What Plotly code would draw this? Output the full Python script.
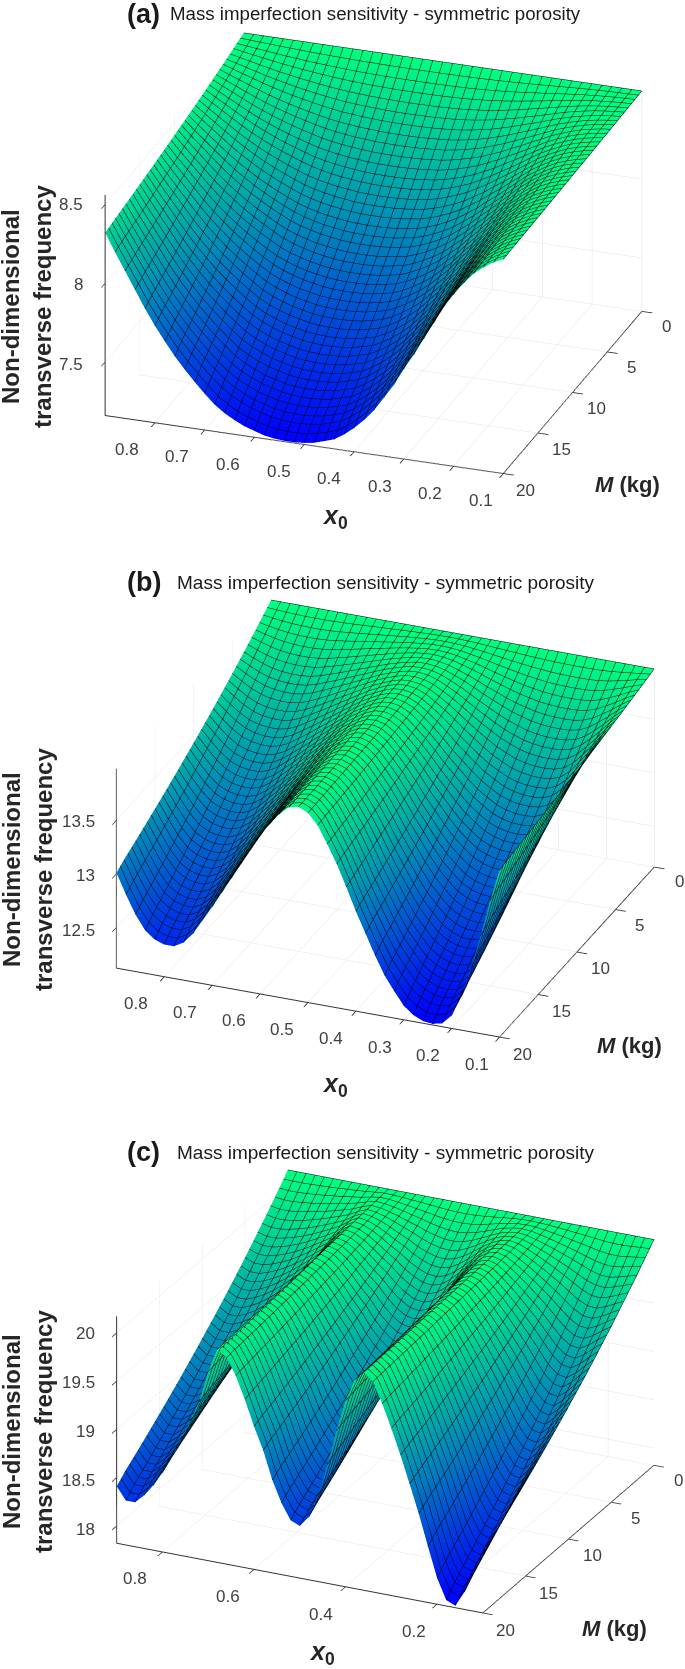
import math
import plotly.graph_objects as go

X0 = [round(0.10 + 0.02 * i, 2) for i in range(41)]
MASS = [0.5 * i for i in range(41)]
MASS_SHAPE = [0, .0319, .0637, .0947, .1255, .1556, .1854, .2147, .2436, .2722, .3003,
              .3280, .3554, .3824, .4091, .4354, .4615, .4864, .5109, .5356, .5601,
              .5842, .6081, .6316, .6548, .6778, .7006, .7229, .7449, .7666, .7881,
              .8095, .8306, .8516, .8725, .8926, .9125, .9323, .9519, .9760, 1.0]

Z0_A = 8.56
EDGE_A = [8.52, 8.49, 8.45, 8.40, 8.33, 8.25, 8.16, 8.05, 7.94, 7.83, 7.73, 7.62, 7.53, 7.44,
          7.37, 7.31, 7.26, 7.22, 7.20, 7.18, 7.17, 7.165, 7.165, 7.17, 7.18, 7.20, 7.22, 7.25,
          7.285, 7.33, 7.39, 7.455, 7.525, 7.60, 7.685, 7.775, 7.875, 7.985, 8.095, 8.205, 8.32]
Z0_B = 13.97
EDGE_B = [13.68, 13.38, 13.03, 12.72, 12.43, 12.24, 12.15, 12.13, 12.14, 12.18, 12.25, 12.37, 12.50,
          12.67, 12.86, 13.05, 13.26, 13.46, 13.63, 13.79, 13.89, 13.93, 13.91, 13.83, 13.72, 13.60,
          13.45, 13.30, 13.15, 13.00, 12.85, 12.71, 12.57, 12.47, 12.42, 12.42, 12.45, 12.52, 12.65,
          12.82, 13.01]
Z0_C = 20.16
EDGE_C = [18.43, 18.22, 18.00, 17.84, 17.88, 18.09, 18.40, 18.72, 19.01, 19.29, 19.55, 19.79, 20.00,
          20.08, 19.98, 19.75, 19.42, 19.05, 18.72, 18.47, 18.36, 18.40, 18.56, 18.78, 19.07, 19.30,
          19.56, 19.79, 19.96, 20.03, 19.78, 19.45, 19.23, 19.02, 18.82, 18.64, 18.49, 18.37, 18.28,
          18.28, 18.41]

TITLE = "Mass imperfection sensitivity - symmetric porosity"
TICKS_M = [0, 5, 10, 15, 20]
TICKS_X_AB = [0.1, 0.2, 0.3, 0.4, 0.5, 0.6, 0.7, 0.8]
TICKS_X_C = [0.2, 0.4, 0.6, 0.8]
TICKS_Z_A = [7.5, 8, 8.5]
TICKS_Z_B = [12.5, 13, 13.5]
TICKS_Z_C = [18, 18.5, 19, 19.5, 20]

W, H = 685, 1669
FONT = "Liberation Sans"
PX_PER_UNIT = 0.508  # screen px per aspect unit, as a fraction of the scene height
X_RANGE = [0.1, 0.9]
M_RANGE = [0, 20]


def surface_z(z0, edge):
    return [[z0 + (e - z0) * s for e in edge] for s in MASS_SHAPE]


def basis(el_deg, hx, hy):
    e = math.radians(el_deg)
    n = math.hypot(hx, hy)
    hx, hy = hx / n, hy / n
    r = (-hy, hx, 0.0)
    u = (-hx * math.sin(e), -hy * math.sin(e), math.cos(e))
    d = (hx * math.cos(e), hy * math.cos(e), math.sin(e))
    return r, u, d


def camera(el_deg, hx, hy, ppu, top, bottom, cx, cy):
    r, u, d = basis(el_deg, hx, hy)
    dx = cx - W / 2.0
    dy = cy - (top + bottom) / 2.0
    c = [-(dx / ppu) * r[i] + (dy / ppu) * u[i] for i in range(3)]
    eye = [c[i] + 4.0 * d[i] for i in range(3)]
    return dict(
        projection=dict(type="orthographic"),
        up=dict(x=0, y=0, z=1),
        center=dict(x=c[0], y=c[1], z=c[2]),
        eye=dict(x=eye[0], y=eye[1], z=eye[2]),
    )


def axis(ticks, rng):
    return dict(
        range=rng, tickvals=ticks, ticktext=[f"{t:g}" for t in ticks],
        title=dict(text=""), showbackground=False, showspikes=False, showticklabels=False,
        gridcolor="#e3e3e3", gridwidth=1, zeroline=False,
        showline=True, linecolor="#333333", linewidth=2,
        ticks="outside", ticklen=11, tickcolor="#333333", tickwidth=2,
    )


COLORS = [[0, "rgb(0,0,255)"], [1, "rgb(0,255,128)"]]
PANELS = [
    dict(z0=Z0_A, edge=EDGE_A, xt=TICKS_X_AB, zt=TICKS_Z_A, zr=[7.16, 8.56], top=0, bottom=530,
         el=24.4, hx=-.333, hy=.943, lx=429, ly=423, lz=246, cx=374, cy=253),
    dict(z0=Z0_B, edge=EDGE_B, xt=TICKS_X_AB, zt=TICKS_Z_B, zr=[12.12, 13.98], top=535, bottom=1095,
         el=26.4, hx=-.375, hy=.927, lx=420, ly=419, lz=226, cx=386, cy=818),
    dict(z0=Z0_C, edge=EDGE_C, xt=TICKS_X_C, zt=TICKS_Z_C, zr=[17.82, 20.17], top=1100, bottom=1669,
         el=23.9, hx=-.425, hy=.905, lx=411, ly=409, lz=252, cx=386, cy=1391),
]


def note(text, x, y, size, angle=0, anchor="center", color="#262626"):
    return dict(text=text, x=x / W, y=1 - y / H, xref="paper", yref="paper", showarrow=False,
                xanchor=anchor, yanchor="middle", textangle=angle,
                font=dict(family=FONT, size=size, color=color))


fig = go.Figure()
layout = {}
notes = []
for i, p in enumerate(PANELS):
    name = "scene" if i == 0 else f"scene{i + 1}"
    fig.add_surface(
        x=X0, y=MASS, z=surface_z(p["z0"], p["edge"]), scene=name,
        colorscale=COLORS, showscale=False,
        lighting=dict(ambient=1, diffuse=0, specular=0, roughness=1, fresnel=0),
        hoverinfo="skip",
        contours=dict(
            x=dict(show=True, start=0.1001, end=0.9, size=0.02, color="#000000", width=2, highlight=False),
            y=dict(show=True, start=0.002, end=20, size=0.5, color="#000000", width=2, highlight=False),
            z=dict(show=False, highlight=False),
        ),
    )
    layout[name] = dict(
        domain=dict(x=[0, 1], y=[1 - p["bottom"] / H, 1 - p["top"] / H]),
        aspectmode="manual",
        aspectratio=dict(x=p["lx"] / (PX_PER_UNIT * (p["bottom"] - p["top"])),
                         y=p["ly"] / (PX_PER_UNIT * (p["bottom"] - p["top"])),
                         z=p["lz"] / (PX_PER_UNIT * (p["bottom"] - p["top"]))),
        camera=camera(p["el"], p["hx"], p["hy"], PX_PER_UNIT * (p["bottom"] - p["top"]),
                      p["top"], p["bottom"], p["cx"], p["cy"]),
        xaxis=axis(p["xt"], X_RANGE),
        yaxis=axis(TICKS_M, M_RANGE),
        zaxis=axis(p["zt"], p["zr"]),
        bgcolor="white",
    )

    r, u, _ = basis(p["el"], p["hx"], p["hy"])

    def screen(x, m, z):
        q = ((x - X_RANGE[0]) / (X_RANGE[1] - X_RANGE[0]) - 0.5,
             (m - M_RANGE[0]) / (M_RANGE[1] - M_RANGE[0]) - 0.5,
             (z - p["zr"][0]) / (p["zr"][1] - p["zr"][0]) - 0.5)
        v = (q[0] * p["lx"], q[1] * p["ly"], q[2] * p["lz"])
        return (p["cx"] + sum(v[k] * r[k] for k in range(3)),
                p["cy"] - sum(v[k] * u[k] for k in range(3)))

    for t in p["xt"]:
        sx, sy = screen(t, M_RANGE[1], p["zr"][0])
        notes.append(note(f"{t:g}", sx - 25, sy + 24, 17, color="#404040"))
    for t in TICKS_M:
        sx, sy = screen(X_RANGE[0], t, p["zr"][0])
        notes.append(note(f"{t:g}", sx + 20, sy + 14, 17, color="#404040"))
    for t in p["zt"]:
        sx, sy = screen(X_RANGE[1], M_RANGE[1], t)
        notes.append(note(f"{t:g}", sx - 16, sy + 1, 17, anchor="right", color="#404040"))

for tag, tx, title_x, title_size, ty, y1, xl, mx, my in [
    ("(a)", 125, 168, 18.7, 14, 307, (335, 517), 627, 485),
    ("(b)", 125, 175, 19, 582, 870, (335, 1085), 629, 1045),
    ("(c)", 125, 175, 19, 1152, 1432, (322, 1653), 614, 1628),
]:
    notes.append(note(f"<b>{tag}</b>", tx, ty, 27, anchor="left", color="#1a1a1a"))
    notes.append(note(TITLE, title_x, ty, title_size, anchor="left", color="#1a1a1a"))
    notes.append(note("<b>Non-dimensional</b>", 11, y1, 24, angle=-90))
    notes.append(note("<b>transverse frequency</b>", 43, y1, 24, angle=-90))
    notes.append(note("<b><i>x</i><sub>0</sub></b>", xl[0], xl[1], 25))
    notes.append(note("<b><i>M</i> (kg)</b>", mx, my, 22))

fig.update_layout(
    width=W, height=H, margin=dict(l=0, r=0, t=0, b=0), autosize=False,
    paper_bgcolor="white", showlegend=False, annotations=notes, **layout,
)
fig.write_html("out.html", post_script="document.body.style.margin='0';",
               config=dict(displayModeBar=False))
